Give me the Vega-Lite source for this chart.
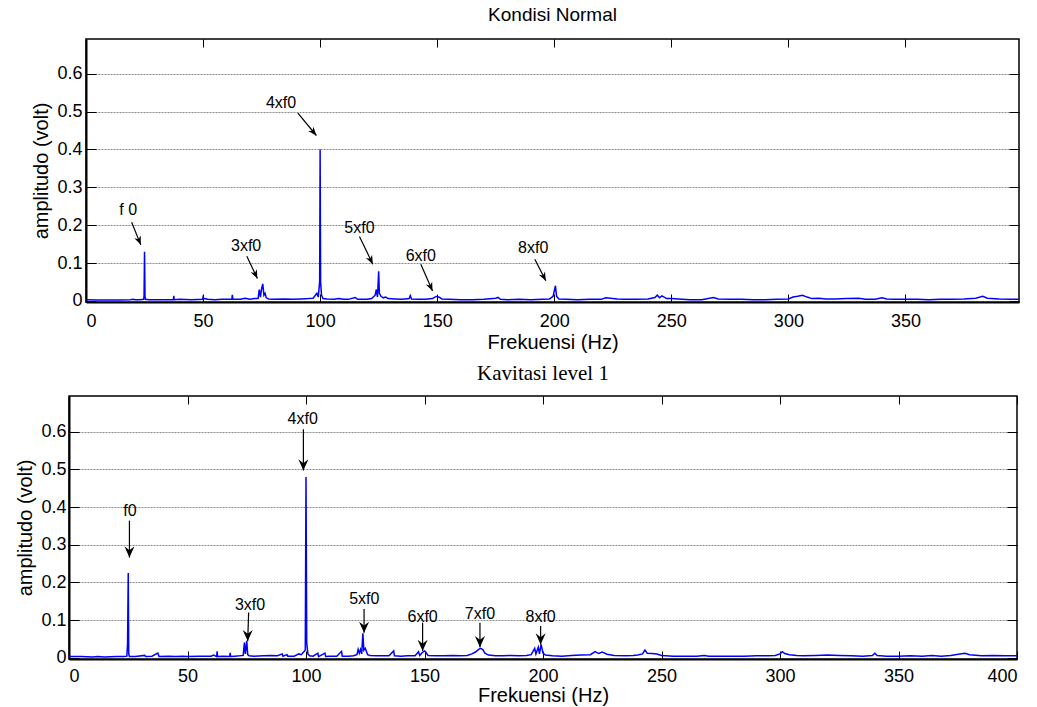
{
  "$schema": "https://vega.github.io/schema/vega-lite/v6.json",
  "background": "white",
  "padding": {"left": 15, "top": 4, "right": 0, "bottom": 0},
  "spacing": 8,
  "config": {
    "view": {"stroke": "black", "strokeWidth": 1.5},
    "font": "Liberation Sans",
    "axis": {"labelFont": "Liberation Sans", "titleFont": "Liberation Sans", "labelColor": "black", "titleColor": "black", "titleFontWeight": "normal", "labelFontSize": 18, "titleFontSize": 20, "tickColor": "black", "domainColor": "black"}
  },
  "datasets": {
    "normal": [
      {"f":0,"a":0.003},{"f":5,"a":0.002},{"f":10,"a":0.002},{"f":15,"a":0.002},{"f":19,"a":0.003},{"f":20,"a":0.004},{"f":21,"a":0.003},{"f":23,"a":0.003},{"f":24.6,"a":0.004},{"f":24.8,"a":0.012},{"f":25,"a":0.13},{"f":25.2,"a":0.012},{"f":25.4,"a":0.004},{"f":27,"a":0.003},{"f":30,"a":0.003},{"f":33,"a":0.003},{"f":37.3,"a":0.003},{"f":37.5,"a":0.013},{"f":37.7,"a":0.003},{"f":40,"a":0.004},{"f":45,"a":0.003},{"f":49.8,"a":0.004},{"f":50,"a":0.01},{"f":50.4,"a":0.006},{"f":52,"a":0.004},{"f":55,"a":0.003},{"f":58,"a":0.004},{"f":62.3,"a":0.004},{"f":62.5,"a":0.016},{"f":62.7,"a":0.004},{"f":66,"a":0.004},{"f":68,"a":0.007},{"f":70,"a":0.004},{"f":72,"a":0.006},{"f":73.5,"a":0.006},{"f":74,"a":0.03},{"f":74.5,"a":0.01},{"f":75,"a":0.032},{"f":75.5,"a":0.045},{"f":76,"a":0.015},{"f":76.5,"a":0.02},{"f":77,"a":0.008},{"f":78,"a":0.005},{"f":80,"a":0.004},{"f":85,"a":0.005},{"f":88,"a":0.004},{"f":92,"a":0.005},{"f":95,"a":0.006},{"f":97,"a":0.007},{"f":98.6,"a":0.02},{"f":99.2,"a":0.01},{"f":99.8,"a":0.05},{"f":100,"a":0.4},{"f":100.2,"a":0.05},{"f":100.6,"a":0.015},{"f":101.2,"a":0.006},{"f":103,"a":0.005},{"f":106,"a":0.004},{"f":108,"a":0.006},{"f":110,"a":0.004},{"f":112,"a":0.004},{"f":115,"a":0.009},{"f":116,"a":0.004},{"f":120,"a":0.004},{"f":122,"a":0.006},{"f":123.5,"a":0.015},{"f":124,"a":0.03},{"f":124.5,"a":0.01},{"f":125,"a":0.078},{"f":125.3,"a":0.02},{"f":126,"a":0.012},{"f":127,"a":0.008},{"f":128,"a":0.01},{"f":129,"a":0.006},{"f":132,"a":0.005},{"f":135,"a":0.004},{"f":138,"a":0.006},{"f":138.5,"a":0.014},{"f":139,"a":0.005},{"f":142,"a":0.004},{"f":145,"a":0.004},{"f":148,"a":0.006},{"f":149,"a":0.01},{"f":150,"a":0.012},{"f":151,"a":0.009},{"f":152,"a":0.005},{"f":155,"a":0.004},{"f":160,"a":0.003},{"f":165,"a":0.003},{"f":170,"a":0.004},{"f":175,"a":0.007},{"f":176,"a":0.009},{"f":177,"a":0.004},{"f":180,"a":0.003},{"f":185,"a":0.004},{"f":190,"a":0.003},{"f":195,"a":0.004},{"f":198,"a":0.005},{"f":199.5,"a":0.012},{"f":200.5,"a":0.04},{"f":201,"a":0.012},{"f":202,"a":0.005},{"f":205,"a":0.004},{"f":210,"a":0.003},{"f":215,"a":0.004},{"f":220,"a":0.004},{"f":222,"a":0.008},{"f":224,"a":0.007},{"f":227,"a":0.005},{"f":230,"a":0.004},{"f":235,"a":0.004},{"f":240,"a":0.005},{"f":243,"a":0.009},{"f":244,"a":0.015},{"f":245,"a":0.008},{"f":246,"a":0.013},{"f":248,"a":0.006},{"f":250,"a":0.006},{"f":253,"a":0.005},{"f":258,"a":0.003},{"f":263,"a":0.003},{"f":268,"a":0.009},{"f":270,"a":0.005},{"f":275,"a":0.004},{"f":280,"a":0.004},{"f":285,"a":0.003},{"f":290,"a":0.003},{"f":295,"a":0.004},{"f":300,"a":0.005},{"f":302,"a":0.01},{"f":304,"a":0.012},{"f":306,"a":0.015},{"f":308,"a":0.01},{"f":310,"a":0.006},{"f":313,"a":0.007},{"f":316,"a":0.005},{"f":320,"a":0.005},{"f":325,"a":0.006},{"f":330,"a":0.007},{"f":333,"a":0.004},{"f":337,"a":0.004},{"f":340,"a":0.008},{"f":342,"a":0.005},{"f":345,"a":0.004},{"f":350,"a":0.004},{"f":355,"a":0.004},{"f":360,"a":0.003},{"f":365,"a":0.004},{"f":370,"a":0.004},{"f":375,"a":0.005},{"f":380,"a":0.007},{"f":383,"a":0.012},{"f":385,"a":0.007},{"f":390,"a":0.005},{"f":395,"a":0.004},{"f":398.5,"a":0.004}
    ],
    "kav": [
      {"f":0,"a":0.003},{"f":5,"a":0.003},{"f":10,"a":0.002},{"f":12,"a":0.003},{"f":15,"a":0.002},{"f":20,"a":0.003},{"f":23,"a":0.003},{"f":24.4,"a":0.004},{"f":24.7,"a":0.035},{"f":25,"a":0.225},{"f":25.2,"a":0.01},{"f":25.5,"a":0.003},{"f":28,"a":0.003},{"f":32,"a":0.006},{"f":32.3,"a":0.003},{"f":35,"a":0.004},{"f":37.5,"a":0.012},{"f":38,"a":0.003},{"f":42,"a":0.004},{"f":45,"a":0.003},{"f":48,"a":0.004},{"f":50,"a":0.003},{"f":55,"a":0.004},{"f":58,"a":0.004},{"f":60,"a":0.004},{"f":61,"a":0.007},{"f":62.3,"a":0.003},{"f":62.5,"a":0.017},{"f":62.7,"a":0.003},{"f":65,"a":0.004},{"f":67.8,"a":0.003},{"f":68,"a":0.013},{"f":68.2,"a":0.003},{"f":70,"a":0.004},{"f":72,"a":0.005},{"f":73.5,"a":0.006},{"f":74,"a":0.04},{"f":74.4,"a":0.01},{"f":75,"a":0.045},{"f":75.4,"a":0.008},{"f":76,"a":0.005},{"f":78,"a":0.004},{"f":82,"a":0.005},{"f":85,"a":0.006},{"f":88,"a":0.005},{"f":90,"a":0.01},{"f":90.3,"a":0.004},{"f":92,"a":0.008},{"f":92.3,"a":0.004},{"f":95,"a":0.004},{"f":97,"a":0.01},{"f":98,"a":0.008},{"f":99,"a":0.015},{"f":99.7,"a":0.02},{"f":100,"a":0.48},{"f":100.3,"a":0.04},{"f":100.8,"a":0.01},{"f":101.5,"a":0.005},{"f":103,"a":0.004},{"f":105,"a":0.012},{"f":105.3,"a":0.003},{"f":108,"a":0.012},{"f":108.3,"a":0.003},{"f":110,"a":0.004},{"f":113,"a":0.004},{"f":115,"a":0.017},{"f":115.3,"a":0.004},{"f":118,"a":0.004},{"f":120,"a":0.005},{"f":121.5,"a":0.008},{"f":122,"a":0.022},{"f":122.5,"a":0.012},{"f":123,"a":0.022},{"f":123.5,"a":0.01},{"f":124,"a":0.065},{"f":124.4,"a":0.02},{"f":125,"a":0.025},{"f":126,"a":0.008},{"f":127,"a":0.006},{"f":130,"a":0.005},{"f":133,"a":0.005},{"f":135,"a":0.005},{"f":137,"a":0.018},{"f":137.3,"a":0.005},{"f":140,"a":0.004},{"f":143,"a":0.005},{"f":146,"a":0.005},{"f":147.5,"a":0.016},{"f":148,"a":0.006},{"f":149,"a":0.013},{"f":150,"a":0.018},{"f":150.5,"a":0.015},{"f":151.5,"a":0.006},{"f":155,"a":0.005},{"f":158,"a":0.005},{"f":162,"a":0.006},{"f":165,"a":0.005},{"f":168,"a":0.006},{"f":170,"a":0.01},{"f":171.5,"a":0.015},{"f":172.5,"a":0.02},{"f":173.5,"a":0.025},{"f":174.5,"a":0.022},{"f":175.5,"a":0.012},{"f":177,"a":0.007},{"f":180,"a":0.005},{"f":183,"a":0.005},{"f":186,"a":0.006},{"f":190,"a":0.005},{"f":193,"a":0.006},{"f":195,"a":0.008},{"f":196.5,"a":0.025},{"f":197,"a":0.01},{"f":198,"a":0.028},{"f":198.5,"a":0.01},{"f":199.2,"a":0.035},{"f":200,"a":0.012},{"f":201,"a":0.007},{"f":204,"a":0.005},{"f":208,"a":0.004},{"f":212,"a":0.006},{"f":216,"a":0.007},{"f":220,"a":0.008},{"f":222,"a":0.016},{"f":223.5,"a":0.011},{"f":225,"a":0.015},{"f":227,"a":0.009},{"f":230,"a":0.006},{"f":235,"a":0.005},{"f":238,"a":0.006},{"f":240,"a":0.007},{"f":242,"a":0.01},{"f":243,"a":0.02},{"f":244,"a":0.012},{"f":246,"a":0.011},{"f":248,"a":0.01},{"f":250,"a":0.006},{"f":255,"a":0.004},{"f":260,"a":0.004},{"f":265,"a":0.004},{"f":268,"a":0.006},{"f":270,"a":0.004},{"f":275,"a":0.004},{"f":280,"a":0.004},{"f":285,"a":0.004},{"f":290,"a":0.005},{"f":295,"a":0.005},{"f":298,"a":0.006},{"f":300,"a":0.01},{"f":301,"a":0.016},{"f":302,"a":0.011},{"f":304,"a":0.008},{"f":307,"a":0.006},{"f":310,"a":0.005},{"f":315,"a":0.006},{"f":320,"a":0.007},{"f":325,"a":0.006},{"f":330,"a":0.005},{"f":335,"a":0.004},{"f":339,"a":0.006},{"f":340,"a":0.012},{"f":341,"a":0.006},{"f":345,"a":0.004},{"f":350,"a":0.004},{"f":355,"a":0.005},{"f":360,"a":0.004},{"f":364,"a":0.006},{"f":368,"a":0.004},{"f":372,"a":0.006},{"f":376,"a":0.01},{"f":378,"a":0.012},{"f":380,"a":0.008},{"f":385,"a":0.005},{"f":390,"a":0.006},{"f":395,"a":0.005},{"f":400,"a":0.005}
    ],
    "normal_ann": [
      {"label":"f 0","tx":18,"ty":0.24,"x1":19.5,"y1":0.208,"x2":23.4,"y2":0.148,"ang":-22},
      {"label":"4xf0","tx":83.3,"ty":0.522,"x1":90.5,"y1":0.496,"x2":98.4,"y2":0.437,"ang":-40},
      {"label":"3xf0","tx":68.4,"ty":0.144,"x1":68.7,"y1":0.118,"x2":73.2,"y2":0.059,"ang":-25},
      {"label":"5xf0","tx":116.8,"ty":0.192,"x1":116.8,"y1":0.17,"x2":122.5,"y2":0.097,"ang":-26},
      {"label":"6xf0","tx":143,"ty":0.119,"x1":143,"y1":0.097,"x2":148,"y2":0.026,"ang":-24},
      {"label":"8xf0","tx":191,"ty":0.141,"x1":191.7,"y1":0.11,"x2":196.4,"y2":0.053,"ang":-27}
    ],
    "kav_ann": [
      {"label":"f0","tx":25.7,"ty":0.39,"x1":25.5,"y1":0.364,"x2":25.5,"y2":0.266,"ang":0},
      {"label":"4xf0","tx":98.6,"ty":0.634,"x1":98.9,"y1":0.607,"x2":98.9,"y2":0.497,"ang":0},
      {"label":"3xf0","tx":76.4,"ty":0.139,"x1":75.8,"y1":0.12,"x2":75.4,"y2":0.044,"ang":0},
      {"label":"5xf0","tx":124.6,"ty":0.155,"x1":124.5,"y1":0.129,"x2":124.5,"y2":0.066,"ang":0},
      {"label":"6xf0","tx":149.2,"ty":0.108,"x1":149.2,"y1":0.093,"x2":149.2,"y2":0.018,"ang":0},
      {"label":"7xf0","tx":173.4,"ty":0.115,"x1":173.4,"y1":0.093,"x2":173.4,"y2":0.028,"ang":0},
      {"label":"8xf0","tx":199,"ty":0.108,"x1":199,"y1":0.084,"x2":199,"y2":0.035,"ang":0}
    ]
  },
  "vconcat": [
    {
      "spacing": 16,
      "bounds": "flush",
      "hconcat": [
        {
          "width": 1,
          "height": 263,
          "view": {"stroke": null},
          "data": {"values": [{"z": 0}]},
          "mark": {"type": "point", "opacity": 0},
          "encoding": {}
        },
        {
          "width": 933,
          "height": 263,
          "title": {"text": "Kondisi Normal", "font": "Liberation Sans", "fontSize": 19, "fontWeight": "normal", "color": "black", "offset": 14},
          "resolve": {"axis": {"x": "independent", "y": "independent"}},
          "layer": [
            {
              "data": {"name": "normal"},
              "mark": {"type": "line", "color": "#0000ff", "strokeWidth": 1.5, "clip": true},
              "encoding": {
                "x": {"field": "f", "type": "quantitative", "scale": {"domain": [0, 398.5], "nice": false, "zero": false},
                  "axis": {"values": [0, 50, 100, 150, 200, 250, 300, 350], "title": "Frekuensi (Hz)", "grid": false, "tickSize": -8, "domainWidth": 2, "labelFontSize": 18, "titleFontSize": 20, "labelPadding": 18, "titlePadding": 2}},
                "y": {"field": "a", "type": "quantitative", "scale": {"domain": [-0.003, 0.692], "nice": false, "zero": false},
                  "axis": {"values": [0, 0.1, 0.2, 0.3, 0.4, 0.5, 0.6], "format": ".1~f", "title": "amplitudo (volt)", "grid": true, "gridColor": "#8a8a8a", "gridDash": [2, 1], "gridWidth": 1, "tickSize": -10, "domainWidth": 2, "labelFontSize": 18, "titleFontSize": 20, "labelPadding": 14, "titlePadding": 5}}
              }
            },
            {
              "data": {"name": "normal_ann"},
              "mark": {"type": "rule", "color": "black", "strokeWidth": 1.2},
              "encoding": {
                "x": {"field": "x1", "type": "quantitative", "scale": {"domain": [0, 398.5], "nice": false, "zero": false},
                  "axis": {"orient": "top", "values": [0, 50, 100, 150, 200, 250, 300, 350], "labels": false, "title": null, "grid": false, "domain": false, "tickSize": -8}},
                "y": {"field": "y1", "type": "quantitative", "scale": {"domain": [-0.003, 0.692], "nice": false, "zero": false},
                  "axis": {"orient": "right", "values": [0, 0.1, 0.2, 0.3, 0.4, 0.5, 0.6], "labels": false, "title": null, "grid": false, "domain": false, "tickSize": -10}},
                "x2": {"field": "x2"},
                "y2": {"field": "y2"}
              }
            },
            {
              "data": {"name": "normal_ann"},
              "mark": {"type": "point", "shape": "M0,0L-0.4,-1L0,-0.7L0.4,-1Z", "filled": true, "color": "black", "opacity": 1, "size": 300},
              "encoding": {
                "x": {"field": "x2", "type": "quantitative", "scale": {"domain": [0, 398.5], "nice": false, "zero": false}, "axis": null},
                "y": {"field": "y2", "type": "quantitative", "scale": {"domain": [-0.003, 0.692], "nice": false, "zero": false}, "axis": null},
                "angle": {"field": "ang", "type": "quantitative", "scale": null}
              }
            },
            {
              "data": {"name": "normal_ann"},
              "mark": {"type": "text", "font": "Liberation Sans", "fontSize": 16, "color": "black", "align": "center", "baseline": "middle"},
              "encoding": {
                "x": {"field": "tx", "type": "quantitative", "scale": {"domain": [0, 398.5], "nice": false, "zero": false}, "axis": null},
                "y": {"field": "ty", "type": "quantitative", "scale": {"domain": [-0.003, 0.692], "nice": false, "zero": false}, "axis": null},
                "text": {"field": "label"}
              }
            }
          ]
        }
      ]
    },
    {
      "hconcat": [
        {
          "width": 948,
          "height": 263,
          "title": {"text": "Kavitasi level 1", "font": "Liberation Serif", "fontSize": 21, "fontWeight": "normal", "color": "black", "offset": 12},
          "resolve": {"axis": {"x": "independent", "y": "independent"}},
          "layer": [
            {
              "data": {"name": "kav"},
              "mark": {"type": "line", "color": "#0000ff", "strokeWidth": 1.5, "clip": true},
              "encoding": {
                "x": {"field": "f", "type": "quantitative", "scale": {"domain": [0, 400], "nice": false, "zero": false},
                  "axis": {"values": [0, 50, 100, 150, 200, 250, 300, 350, 400], "title": "Frekuensi (Hz)", "grid": false, "tickSize": -8, "domainWidth": 2, "labelFontSize": 18, "titleFontSize": 20, "labelPadding": 16, "titlePadding": 0}},
                "y": {"field": "a", "type": "quantitative", "scale": {"domain": [-0.0035, 0.695], "nice": false, "zero": false},
                  "axis": {"values": [0, 0.1, 0.2, 0.3, 0.4, 0.5, 0.6], "format": ".1~f", "title": "amplitudo (volt)", "grid": true, "gridColor": "#8a8a8a", "gridDash": [2, 1], "gridWidth": 1, "tickSize": -10, "domainWidth": 2, "labelFontSize": 18, "titleFontSize": 20, "labelPadding": 13, "titlePadding": 5}}
              }
            },
            {
              "data": {"name": "kav_ann"},
              "mark": {"type": "rule", "color": "black", "strokeWidth": 1.2},
              "encoding": {
                "x": {"field": "x1", "type": "quantitative", "scale": {"domain": [0, 400], "nice": false, "zero": false},
                  "axis": {"orient": "top", "values": [0, 50, 100, 150, 200, 250, 300, 350, 400], "labels": false, "title": null, "grid": false, "domain": false, "tickSize": -8}},
                "y": {"field": "y1", "type": "quantitative", "scale": {"domain": [-0.0035, 0.695], "nice": false, "zero": false},
                  "axis": {"orient": "right", "values": [0, 0.1, 0.2, 0.3, 0.4, 0.5, 0.6], "labels": false, "title": null, "grid": false, "domain": false, "tickSize": -10}},
                "x2": {"field": "x2"},
                "y2": {"field": "y2"}
              }
            },
            {
              "data": {"name": "kav_ann"},
              "mark": {"type": "point", "shape": "M0,0L-0.45,-1L0,-0.65L0.45,-1Z", "filled": true, "color": "black", "opacity": 1, "size": 500},
              "encoding": {
                "x": {"field": "x2", "type": "quantitative", "scale": {"domain": [0, 400], "nice": false, "zero": false}, "axis": null},
                "y": {"field": "y2", "type": "quantitative", "scale": {"domain": [-0.0035, 0.695], "nice": false, "zero": false}, "axis": null},
                "angle": {"field": "ang", "type": "quantitative", "scale": null}
              }
            },
            {
              "data": {"name": "kav_ann"},
              "mark": {"type": "text", "font": "Liberation Sans", "fontSize": 16, "color": "black", "align": "center", "baseline": "middle"},
              "encoding": {
                "x": {"field": "tx", "type": "quantitative", "scale": {"domain": [0, 400], "nice": false, "zero": false}, "axis": null},
                "y": {"field": "ty", "type": "quantitative", "scale": {"domain": [-0.0035, 0.695], "nice": false, "zero": false}, "axis": null},
                "text": {"field": "label"}
              }
            }
          ]
        }
      ]
    }
  ]
}
